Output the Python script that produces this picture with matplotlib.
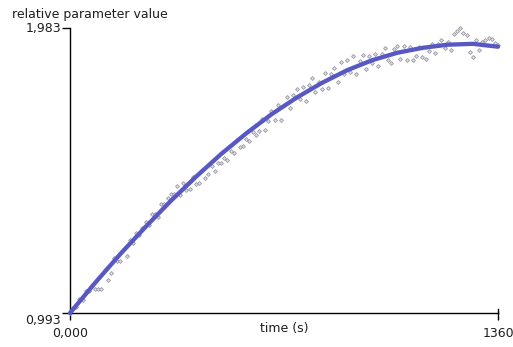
import matplotlib
matplotlib.use("Agg")
import matplotlib.pyplot as plt

plt.rcParams['font.family'] = ['DejaVu Sans']

# fitted curve
fit_t = [0, 80, 160, 240, 320, 400, 480, 560, 640, 720, 800, 880, 960,
         1040, 1120, 1200, 1280, 1360]
fit_v = [0.993, 1.098, 1.198, 1.292, 1.382, 1.466, 1.545, 1.617, 1.683,
         1.741, 1.792, 1.836, 1.871, 1.897, 1.914, 1.925, 1.928, 1.918]

# measured points (every 10 s)
meas_t = list(range(0, 1361, 10))
meas_v = [
    0.993, 1.011, 1.015, 1.040, 1.039, 1.069, 1.069, 1.092,
    1.078, 1.076, 1.078, 1.142, 1.108, 1.131, 1.183, 1.174,
    1.173, 1.214, 1.192, 1.245, 1.237, 1.272, 1.265, 1.290,
    1.310, 1.297, 1.336, 1.336, 1.327, 1.373, 1.371, 1.391,
    1.407, 1.405, 1.433, 1.404, 1.446, 1.420, 1.425, 1.464,
    1.441, 1.446, 1.491, 1.461, 1.477, 1.505, 1.487, 1.513,
    1.515, 1.532, 1.523, 1.557, 1.549, 1.595, 1.571, 1.573,
    1.597, 1.590, 1.623, 1.612, 1.625, 1.666, 1.628, 1.660,
    1.693, 1.665, 1.717, 1.665, 1.717, 1.744, 1.706, 1.749,
    1.771, 1.735, 1.779, 1.730, 1.786, 1.808, 1.761, 1.796,
    1.772, 1.826, 1.773, 1.824, 1.844, 1.795, 1.865, 1.823,
    1.871, 1.830, 1.885, 1.824, 1.868, 1.888, 1.842, 1.887,
    1.861, 1.894, 1.850, 1.893, 1.914, 1.872, 1.861, 1.909,
    1.919, 1.874, 1.919, 1.873, 1.916, 1.873, 1.885, 1.917,
    1.884, 1.875, 1.902, 1.928, 1.895, 1.926, 1.942, 1.914,
    1.935, 1.905, 1.961, 1.971, 1.982, 1.967, 1.957, 1.898,
    1.883, 1.942, 1.905, 1.934, 1.943, 1.950, 1.945, 1.931, 1.923,
]

x_ticks = [0, 1360]
x_labels = ["0,000", "1360"]
y_ticks = [0.993, 1.983]
y_labels = ["0,993", "1,983"]

TXT = '#1e1e1e'
FS = 9

fig = plt.figure(figsize=(5.13, 3.47), dpi=100)
ax = fig.add_axes([70/513, 34/347, 428/513, 285/347])

ax.plot(meas_t, meas_v, linestyle='none', marker='D', markersize=2.0,
        markerfacecolor='#e0e0e6', markeredgecolor='#9a9aa4',
        markeredgewidth=0.6, zorder=2, clip_on=False)
ax.plot(fit_t, fit_v, color='#5858c4', linewidth=3.1,
        solid_capstyle='round', zorder=3, clip_on=False)

ax.set_xlim(0, 1360)
ax.set_ylim(0.993, 1.983)
for s in ['top', 'right']:
    ax.spines[s].set_visible(False)
for s in ['left', 'bottom']:
    ax.spines[s].set_color('black')
    ax.spines[s].set_linewidth(1.0)

ax.set_xticks(x_ticks)
ax.set_xticklabels([])
ax.set_yticks(y_ticks)
ax.set_yticklabels([])
ax.tick_params(axis='x', direction='out', length=5, width=1, colors='black')
ax.tick_params(axis='y', direction='out', length=6, width=1, colors='black')
# the end tick on the x axis crosses the axis line
ax.plot([x_ticks[1], x_ticks[1]], [0.993, 0.993 + 0.014], color='black',
        linewidth=1, clip_on=False, zorder=4)

# tick labels placed as in the reference
ax.annotate(y_labels[1], xy=(0, y_ticks[1]), xytext=(-9, 0),
            textcoords='offset pixels', ha='right', va='center',
            fontsize=FS, color=TXT, annotation_clip=False)
ax.annotate(y_labels[0], xy=(0, y_ticks[0]), xytext=(-9, -1),
            textcoords='offset pixels', ha='right', va='top',
            fontsize=FS, color=TXT, annotation_clip=False)
ax.annotate(x_labels[0], xy=(x_ticks[0], 0.993), xytext=(0, -14),
            textcoords='offset pixels', ha='center', va='top',
            fontsize=FS, color=TXT, annotation_clip=False)
ax.annotate(x_labels[1], xy=(x_ticks[1], 0.993), xytext=(0, -14),
            textcoords='offset pixels', ha='center', va='top',
            fontsize=FS, color=TXT, annotation_clip=False)
ax.annotate("time (s)", xy=(680, 0.993), xytext=(0, -9),
            textcoords='offset pixels', ha='center', va='top',
            fontsize=FS, color=TXT, annotation_clip=False)

fig.text(12/513, 1 - 8/347, "relative parameter value", ha='left', va='top',
         fontsize=FS, color=TXT)

fig.savefig("out.png", dpi=100)
